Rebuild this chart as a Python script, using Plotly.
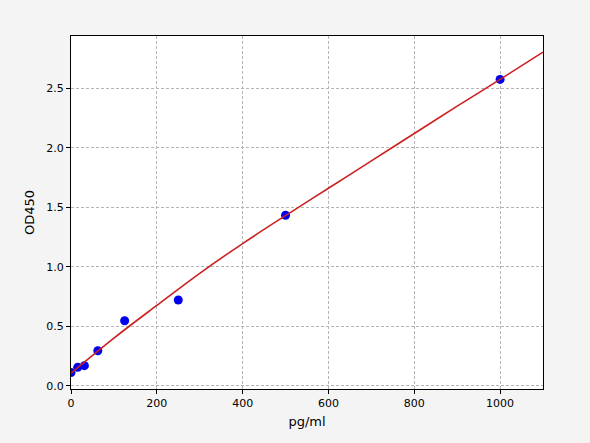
import plotly.graph_objects as go

# standard points (concentration, OD)
conc = [0, 15.6, 31.25, 62.5, 125, 250, 500, 1000]
od450 = [0.11, 0.154, 0.168, 0.294, 0.546, 0.72, 1.433, 2.575]

# fitted curve
fit_x = [0, 100, 200, 300, 400, 500, 600, 700, 800, 900, 1000, 1100]
fit_y = [0.105, 0.40, 0.675, 0.945, 1.195, 1.43, 1.66, 1.89, 2.12, 2.35, 2.575, 2.805]

fig = go.Figure()
fig.add_trace(go.Scatter(
    x=conc, y=od450, mode="markers",
    marker=dict(color="#0000ee", size=9, line=dict(width=0)),
    showlegend=False,
))
fig.add_trace(go.Scatter(
    x=fit_x, y=fit_y, mode="lines",
    line=dict(color="#cc2020", width=1.6, shape="spline"),
    showlegend=False,
))

axis_style = dict(
    showline=True, linecolor="black", linewidth=1, mirror=True,
    ticks="outside", ticklen=4, tickcolor="black",
    showgrid=True, gridcolor="#b4b4b4", griddash="3px,2px", gridwidth=0.8,
    zeroline=False,
    tickfont=dict(family="DejaVu Sans", size=11, color="black"),
)

fig.update_layout(
    width=590, height=443,
    paper_bgcolor="#f4f4f4",
    plot_bgcolor="white",
    margin=dict(l=71, r=47, t=36, b=54),
    font=dict(family="DejaVu Sans", size=11, color="black"),
    xaxis=dict(axis_style, range=[0, 1100], dtick=200,
               title=dict(text="pg/ml", standoff=7)),
    yaxis=dict(axis_style, range=[-0.028, 2.94], dtick=0.5, tickformat=".1f",
               title=dict(text="OD450", standoff=8)),
)

# drop the default page margin so the figure fills the window
fig.write_html("out.html", config={"displayModeBar": False},
               post_script="document.body.style.margin='0';")
